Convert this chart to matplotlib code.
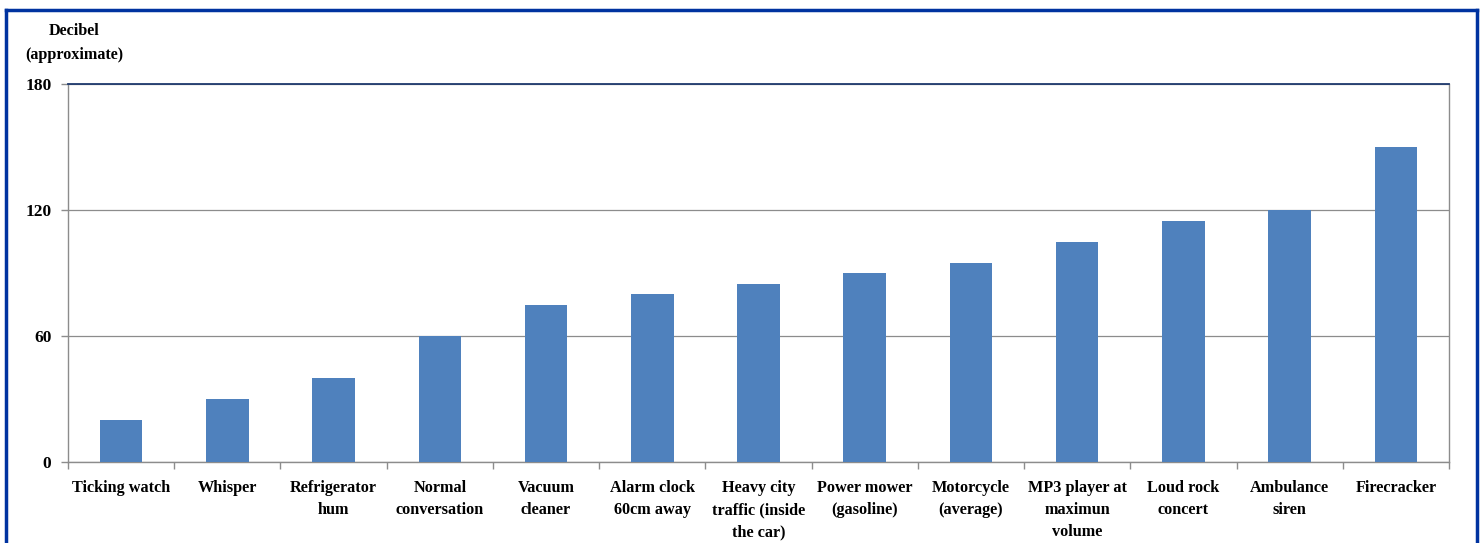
import matplotlib
matplotlib.use("Agg")
import matplotlib.pyplot as plt
from matplotlib.lines import Line2D
import numpy as np

categories = ["Ticking watch", "Whisper", "Refrigerator\nhum", "Normal\nconversation",
              "Vacuum\ncleaner", "Alarm clock\n60cm away", "Heavy city\ntraffic (inside\nthe car)",
              "Power mower\n(gasoline)", "Motorcycle\n(average)", "MP3 player at\nmaximun\nvolume",
              "Loud rock\nconcert", "Ambulance\nsiren", "Firecracker"]
values = [20, 30, 40, 60, 75, 80, 85, 90, 95, 105, 115, 120, 150]
yticks = [0, 60, 120, 180]

plt.rcParams['font.family'] = ['Liberation Serif', 'DejaVu Serif']
plt.rcParams['font.weight'] = 'bold'

W, H = 1483, 543
fig = plt.figure(figsize=(W/100, H/100), dpi=100)
ax = fig.add_axes([68/W, (H-462)/H, (1449-68)/W, (462-84)/H])

x = np.arange(len(categories))
ax.bar(x, values, width=0.4, color='#4F81BD', zorder=3)
ax.set_xlim(-0.5, len(categories)-0.5)
ax.set_ylim(0, 180)
ax.set_yticks(yticks)
ax.set_yticklabels([str(v) for v in yticks], fontsize=12.5, fontweight='bold')
ax.yaxis.grid(True, color='#8C8C8C', linewidth=0.9, zorder=0)
ax.set_xticks(x)
ax.set_xticklabels(categories, fontsize=11.7, fontweight='bold', linespacing=1.5, va='top')
ax.tick_params(axis='x', length=0, pad=13)
ax.set_xticks(np.arange(-0.5, len(categories)), minor=True)
ax.tick_params(axis='x', which='minor', length=5, color='#8C8C8C', width=1)
ax.tick_params(axis='y', length=5, color='#8C8C8C', width=1, pad=7)
for s in ['left', 'right', 'bottom']:
    ax.spines[s].set_color('#8C8C8C')
    ax.spines[s].set_linewidth(1)
ax.spines['top'].set_color('#1F3A6E')
ax.spines['top'].set_linewidth(1.3)

fig.text(74/W, 1-43/H, "Decibel\n(approximate)", ha='center', va='center',
         fontsize=11.6, fontweight='bold', linespacing=1.65)

# figure border
bc = '#0033A0'
fig.add_artist(Line2D([6/W, 6/W], [0, 1-10/H], color=bc, lw=2.5, transform=fig.transFigure))
fig.add_artist(Line2D([1477/W, 1477/W], [0, 1-10/H], color=bc, lw=2.5, transform=fig.transFigure))
fig.add_artist(Line2D([6/W, 1477/W], [1-10/H, 1-10/H], color=bc, lw=2.5, transform=fig.transFigure))

fig.savefig("out.png", dpi=100)
